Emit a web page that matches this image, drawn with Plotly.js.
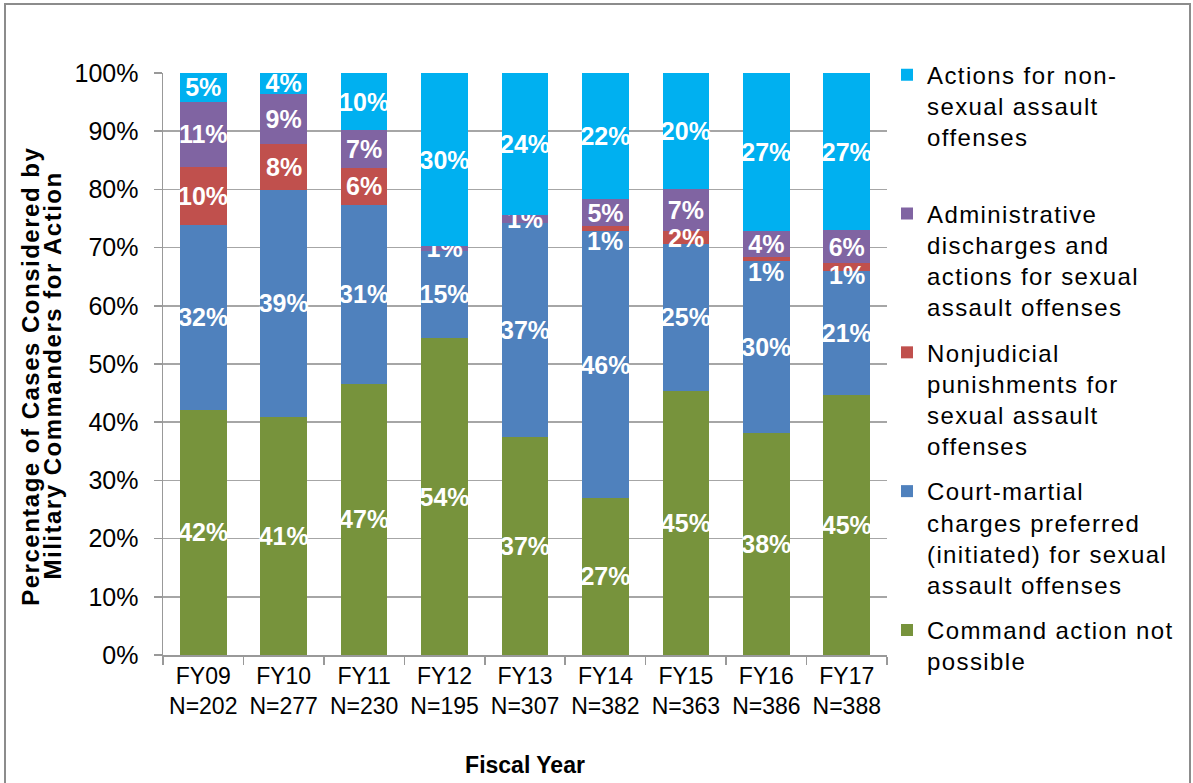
<!DOCTYPE html>
<html>
<head>
<meta charset="utf-8">
<script src="https://cdn.plot.ly/plotly-3.0.1.min.js"></script>
<style>
  html, body { margin: 0; padding: 0; background: #ffffff; }
  #chart { width: 1193px; height: 783px; }
  .legendtext { letter-spacing: 1.4px; }
  .annotation[data-index="0"] text, .annotation[data-index="1"] text { letter-spacing: 1.5px; }
</style>
</head>
<body>
<div id="chart"></div>
<script>
// ---- data ----
const fiscalYears = ['FY09', 'FY10', 'FY11', 'FY12', 'FY13', 'FY14', 'FY15', 'FY16', 'FY17'];
const caseCounts = [202, 277, 230, 195, 307, 382, 363, 386, 388];

const commandNotPossible = [42.1, 40.9, 46.6, 54.4, 37.4, 27.0, 45.4, 38.1, 44.7];
const courtMartial       = [31.8, 39.0, 30.8, 15.1, 36.9, 45.8, 25.3, 29.6, 21.3];
const nonjudicial        = [9.9, 7.9, 6.2, 0, 0, 0.9, 2.1, 0.7, 1.3];
const adminDischarges    = [11.3, 8.6, 6.6, 0.7, 1.3, 4.6, 7.3, 4.4, 5.7];
const nonSexualActions   = [4.9, 3.6, 9.8, 29.8, 24.4, 21.7, 19.9, 27.2, 27.0];

const seriesNames = [
  'Command action not<br>possible',
  'Court-martial<br>charges preferred<br>(initiated) for sexual<br>assault offenses',
  'Nonjudicial<br>punishments for<br>sexual assault<br>offenses',
  'Administrative<br>discharges and<br>actions for sexual<br>assault offenses',
  'Actions for non-<br>sexual assault<br>offenses<br> '
];
const seriesColors = ['#77933c', '#4f81bd', '#c0504d', '#8064a2', '#00b0f0'];

const xTitle = 'Fiscal Year';
const yTitleLines = ['Percentage of Cases Considered by', 'Military Commanders for Action'];

// ---- build ----
const categories = fiscalYears.map((fy, i) => fy + '<br>N=' + caseCounts[i]);
const seriesValues = [commandNotPossible, courtMartial, nonjudicial, adminDischarges, nonSexualActions];
const pctLabel = v => (v > 0 ? Math.round(v) + '%' : '');
const FONT = 'Liberation Sans, Arial, Helvetica, sans-serif';
const labelFont = { family: FONT, size: 25, color: '#ffffff', weight: 'bold' };

const traces = seriesValues.map((vals, k) => ({
  type: 'bar',
  name: seriesNames[k],
  x: categories,
  y: vals,
  marker: { color: seriesColors[k], line: { width: 0 } },
  legendgroup: 'g' + k,
  legendrank: 10 - k,
  text: k === 2 ? vals.map(() => '') : vals.map(pctLabel),
  textposition: k === 2 ? 'none' : 'inside',
  insidetextanchor: 'middle',
  textangle: 0,
  constraintext: 'none',
  cliponaxis: false,
  textfont: labelFont,
  insidetextfont: labelFont,
  hoverinfo: 'name+y'
}));

const annotations = [];

// y-axis title (two tightly spaced rotated lines) — kept first so CSS can target them
const yTitleX = [(31 - 163) / 724, (53 - 163) / 724];
yTitleLines.forEach((t, j) => {
  annotations.push({
    xref: 'paper', yref: 'paper',
    x: yTitleX[j], y: (655 - 376) / 582,
    xanchor: 'center', yanchor: 'middle',
    text: '<b>' + t + '</b>', textangle: -90, showarrow: false,
    font: { family: FONT, size: 24, color: '#000000' }
  });
});

// Nonjudicial labels drawn as annotations, nudged below the admin label when crowded
categories.forEach((c, i) => {
  const r = nonjudicial[i];
  if (r <= 0) return;
  const base = commandNotPossible[i] + courtMartial[i];
  const redMid = base + r / 2;
  const purpleMid = base + r + adminDischarges[i] / 2;
  const yPos = Math.min(redMid, purpleMid - 4.8);
  annotations.push({
    x: c, y: yPos, xref: 'x', yref: 'y',
    text: pctLabel(r), showarrow: false,
    font: labelFont, xanchor: 'center', yanchor: 'middle'
  });
});

const layout = {
  width: 1193,
  height: 783,
  margin: { l: 163, r: 306, t: 73, b: 128 },
  paper_bgcolor: '#ffffff',
  plot_bgcolor: '#ffffff',
  font: { family: FONT, color: '#000000' },
  barmode: 'stack',
  bargap: 0.42,
  showlegend: true,
  legend: {
    x: 1.0, xanchor: 'left',
    y: 1.035, yanchor: 'top',
    traceorder: 'grouped',
    tracegroupgap: 11,
    valign: 'top',
    maxheight: 740,
    font: { family: FONT, size: 24, color: '#000000' },
    bgcolor: 'rgba(0,0,0,0)',
    itemclick: false
  },
  xaxis: {
    type: 'category',
    tickson: 'boundaries',
    ticks: 'outside',
    ticklen: 8,
    tickcolor: '#999999',
    tickwidth: 1.5,
    showline: true,
    linecolor: '#999999',
    linewidth: 1.5,
    showgrid: false,
    tickfont: { family: FONT, size: 23, color: '#000000' },
    title: { text: xTitle, font: { family: FONT, size: 23, color: '#000000', weight: 'bold' }, standoff: 39 },
    automargin: false
  },
  yaxis: {
    range: [0, 100.001],
    tick0: 0,
    dtick: 10,
    ticksuffix: '%',
    ticks: 'outside',
    ticklen: 8,
    tickcolor: '#999999',
    tickwidth: 1.5,
    showline: true,
    linecolor: '#999999',
    linewidth: 1.5,
    showgrid: true,
    gridcolor: '#a6a6a6',
    gridwidth: 1.5,
    zeroline: false,
    ticklabelstandoff: 10,
    tickfont: { family: FONT, size: 25, color: '#000000' },
    automargin: false
  },
  annotations: annotations,
  shapes: [{
    type: 'rect', xref: 'paper', yref: 'paper',
    x0: (5 - 163) / 724, x1: (1190 - 163) / 724,
    y0: (655 - 800) / 582, y1: (655 - 4) / 582,
    line: { color: '#8c8c8c', width: 2 },
    fillcolor: 'rgba(0,0,0,0)', layer: 'above'
  }]
};

Plotly.newPlot('chart', traces, layout, { displayModeBar: false, staticPlot: true });
</script>
</body>
</html>
